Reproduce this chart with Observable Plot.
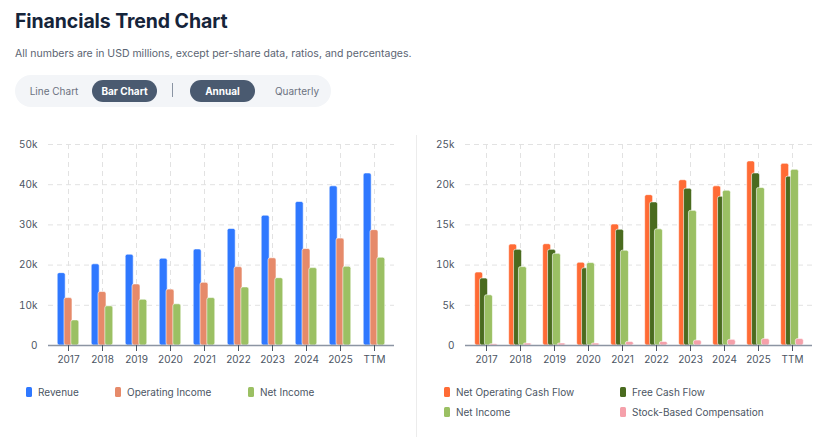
<!DOCTYPE html>
<html><head><meta charset="utf-8">
<script src="https://cdn.jsdelivr.net/npm/d3@7"></script>
<script src="https://cdn.jsdelivr.net/npm/@observablehq/plot@0.6"></script>
<style>
body{margin:0;width:823px;height:437px;overflow:hidden;background:#fff;font-family:Inter,"Open Sans",sans-serif;position:relative;color:#1b2a3d}
.abs{position:absolute}
#title{left:15px;top:9px;font-size:19.5px;font-weight:700;color:#15243a;letter-spacing:-0.1px}
#subtitle{left:15px;top:47px;font-size:10.5px;color:#5b6472}
#toggle{left:15px;top:75px;width:316px;height:32px;border-radius:16px;background:#f3f5f8}
.opt{position:absolute;top:5px;height:22px;line-height:22px;font-size:10px;color:#6b7280;text-align:center}
.sel{background:#4a5a70;color:#fff;font-weight:700;border-radius:11px}
#sep{left:157px;top:8px;width:1px;height:14px;background:#8a94a3;position:absolute}
#divider{left:416px;top:135px;width:1px;height:302px;background:#ececec}
.leg{position:absolute;font-size:10px;color:#4b5563;display:flex;align-items:center;white-space:nowrap}
.sw{width:6px;height:10px;border-radius:1.5px;margin-right:6px}
</style></head><body>
<div id="title" class="abs">Financials Trend Chart</div>
<div id="subtitle" class="abs">All numbers are in USD millions, except per-share data, ratios, and percentages.</div>
<div id="toggle" class="abs">
  <div class="opt" style="left:8px;width:62px">Line Chart</div>
  <div class="opt sel" style="left:77px;width:65px">Bar Chart</div>
  <div id="sep"></div>
  <div class="opt sel" style="left:175px;width:65px">Annual</div>
  <div class="opt" style="left:252px;width:60px">Quarterly</div>
</div>
<div id="divider" class="abs"></div>
<div id="left" class="abs" style="left:0;top:135px"></div>
<div id="right" class="abs" style="left:418px;top:135px"></div>
<div id="legendLeft"></div>
<div id="legendRight"></div>
<script>
const years = ["2017","2018","2019","2020","2021","2022","2023","2024","2025","TTM"];
const revenue = [18000,20200,22600,21600,23900,29000,32300,35700,39600,42800];
const operatingIncome = [11800,13300,15200,13900,15600,19500,21700,24000,26600,28700];
const netIncome = [6250,9750,11400,10250,11800,14450,16750,19250,19600,21850];
const netOperatingCashFlow = [9080,12560,12600,10300,15050,18700,20560,19800,22900,22600];
const freeCashFlow = [8330,11900,11900,9600,14400,17800,19500,18500,21400,21000];
const stockBasedCompensation = [160,250,250,250,450,450,620,700,800,800];
const leftTicks = [0,10000,20000,30000,40000,50000];
const rightTicks = [0,5000,10000,15000,20000,25000];

const colors = {
  "Revenue":"#2f78ff","Operating Income":"#e68a6a","Net Income":"#9bc063",
  "Net Operating Cash Flow":"#ff6b35","Free Cash Flow":"#4a6b1f","Stock-Based Compensation":"#f5a0aa"
};

const fmt = d => d === 0 ? "0" : (d/1000) + "k";

function chart({series, width, marginLeft, marginRight, yMax, ticks, bw, step}) {
  const n = series.length;
  const marks = [
    Plot.gridY(ticks, {stroke:"#e2e2e2", strokeOpacity:1, strokeDasharray:"5,4"}),
    Plot.gridX(years, {x: d=>d, stroke:"#e2e2e2", strokeOpacity:1, strokeDasharray:"5,4"})
  ];
  series.forEach((s, i) => {
    const data = years.map((y, j) => ({year:y, value:s.values[j]}));
    marks.push(Plot.barY(data, {
      x:"year", y:"value", fill:colors[s.name], stroke:"white", strokeWidth:0.6,
      rx:2, dx:(i-(n-1)/2)*step, insetLeft:0, insetRight:0
    }));
  });
  marks.push(Plot.ruleY([0], {stroke:"#8c95a3", strokeWidth:1.5}));
  marks.push(Plot.axisY({ticks, tickFormat:fmt, tickSize:0, tickPadding:11, color:"#4b5563"}));
  marks.push(Plot.axisX({tickSize:6, tickPadding:4, color:"#4b5563"}));
  const p = 1 - bw;
  return Plot.plot({
    width, height:235, marginLeft, marginRight, marginTop:9, marginBottom:25,
    style:{fontFamily:"Inter, 'Open Sans', sans-serif", fontSize:"10px", color:"#4b5563", background:"transparent"},
    x:{domain:years, type:"band", paddingInner:p, paddingOuter:p/2, label:null},
    y:{domain:[0,yMax], label:null},
    marks
  });
}

document.getElementById("left").append(chart({
  series:[{name:"Revenue",values:revenue},{name:"Operating Income",values:operatingIncome},{name:"Net Income",values:netIncome}],
  width:410, marginLeft:48, marginRight:16, yMax:50000, ticks:leftTicks, bw:8.2/34.6, step:6.8
}));
document.getElementById("right").append(chart({
  series:[{name:"Net Operating Cash Flow",values:netOperatingCashFlow},{name:"Free Cash Flow",values:freeCashFlow},{name:"Net Income",values:netIncome},{name:"Stock-Based Compensation",values:stockBasedCompensation}],
  width:405, marginLeft:47, marginRight:11, yMax:25000, ticks:rightTicks, bw:7.8/34.7, step:4.9
}));

function legendItem(name, left, top) {
  const el = document.createElement("div");
  el.className = "leg";
  el.style.left = left + "px"; el.style.top = top + "px";
  el.innerHTML = `<span class="sw" style="background:${colors[name]}"></span>${name}`;
  document.body.append(el);
}
legendItem("Revenue", 26, 386);
legendItem("Operating Income", 115, 386);
legendItem("Net Income", 248, 386);
legendItem("Net Operating Cash Flow", 444, 386);
legendItem("Free Cash Flow", 620, 386);
legendItem("Net Income", 444, 406);
legendItem("Stock-Based Compensation", 620, 406);
</script>
</body></html>
